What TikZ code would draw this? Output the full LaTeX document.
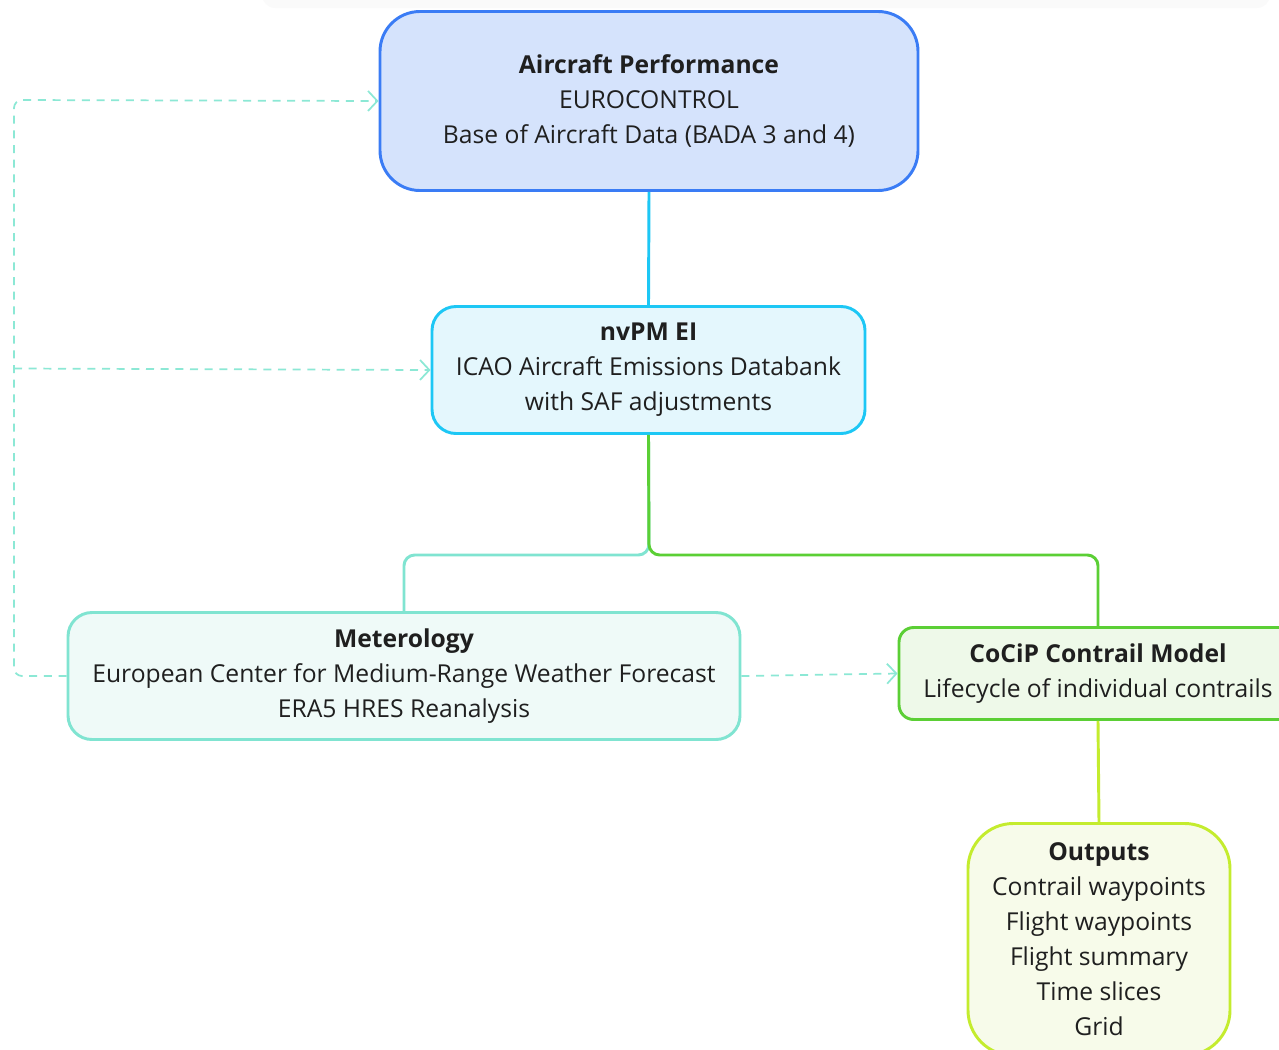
\documentclass[tikz,border=0pt]{standalone}
\usepackage{fontspec}
\setmainfont{Open Sans}
\usetikzlibrary{arrows.meta}
\definecolor{txt}{HTML}{1F1F1F}
\definecolor{airF}{HTML}{D5E3FC}
\definecolor{airD}{HTML}{3A7CF5}
\definecolor{nvF}{HTML}{E4F7FD}
\definecolor{nvD}{HTML}{1DC7F5}
\definecolor{metF}{HTML}{EFFAF8}
\definecolor{metD}{HTML}{80E4D1}
\definecolor{cocF}{HTML}{EEF9E9}
\definecolor{cocD}{HTML}{5BCF35}
\definecolor{outF}{HTML}{F7FBEA}
\definecolor{outD}{HTML}{C4EC2E}
\definecolor{dashC}{HTML}{8CE8D5}
\tikzset{
  box/.style={draw, line width=2.2pt, align=center, text=txt, inner sep=0pt,
    font=\fontsize{18.5pt}{26.25pt}\selectfont},
  conn/.style={line width=2.2pt, rounded corners=8pt},
  dashconn/.style={draw=dashC, line width=1.3pt, dash pattern=on 6pt off 5pt, rounded corners=6pt},
  openarrow/.style={-{Straight Barb[length=7pt,width=15pt,line width=1.3pt]}}
}
\begin{document}
\begin{tikzpicture}[x=0.75pt,y=-0.75pt]
\path[use as bounding box] (0,0) rectangle (1279,1050);
\clip (0,0) rectangle (1279,1050);
\fill[white] (0,0) rectangle (1279,1050);
\fill[black!2, rounded corners=10pt] (262,-20) rectangle (1270,8);
\node[box, fill=airF, draw=airD, minimum width=403.5pt, minimum height=134.25pt, rounded corners=30pt] (air) at (649,101)
  {\textbf{Aircraft Performance}\\EUROCONTROL\\Base of Aircraft Data (BADA 3 and 4)};
\path[fill=none] (air.north) ++(0,-1.5) coordinate (airtop);
\node[box, fill=nvF, draw=nvD, minimum width=324.75pt, minimum height=95.25pt, rounded corners=18pt] (nv) at (648.5,370)
  {\textbf{nvPM EI}\\ICAO Aircraft Emissions Databank\\with SAF adjustments};
\node[box, fill=metF, draw=metD, minimum width=504pt, minimum height=95.25pt, rounded corners=18pt] (met) at (404,676)
  {\textbf{Meterology}\\European Center for Medium-Range Weather Forecast\\ERA5 HRES Reanalysis};
\node[box, fill=cocF, draw=cocD, minimum width=298.5pt, minimum height=69pt, rounded corners=11pt] (coc) at (1098,673.5)
  {\textbf{CoCiP Contrail Model}\\Lifecycle of individual contrails};
\node[box, fill=outF, draw=outD, minimum width=196.5pt, minimum height=174pt, rounded corners=34pt] (out) at (1099,939.5)
  {\textbf{Outputs}\\Contrail waypoints\\Flight waypoints\\Flight summary\\Time slices\\Grid};
\coordinate (split) at (649,555);
\coordinate (lt) at (14,100);
\coordinate (lm) at (14,368.5);
\draw[conn, draw=nvD] (air.south) -- (nv.north);
\draw[conn, draw=metD] (nv.south) -- (split) -| (met.north);
\draw[conn, draw=cocD] (nv.south) -- (split) -| (coc.north);
\draw[conn, draw=outD] (coc.south) -- (out.north);
\draw[dashconn, openarrow] (met.west) -| (lt) -- (air.west);
\draw[dashconn, openarrow] (lm) -- (nv.west);
\draw[dashconn, openarrow] (met.east) -- (coc.west);
\end{tikzpicture}
\end{document}
